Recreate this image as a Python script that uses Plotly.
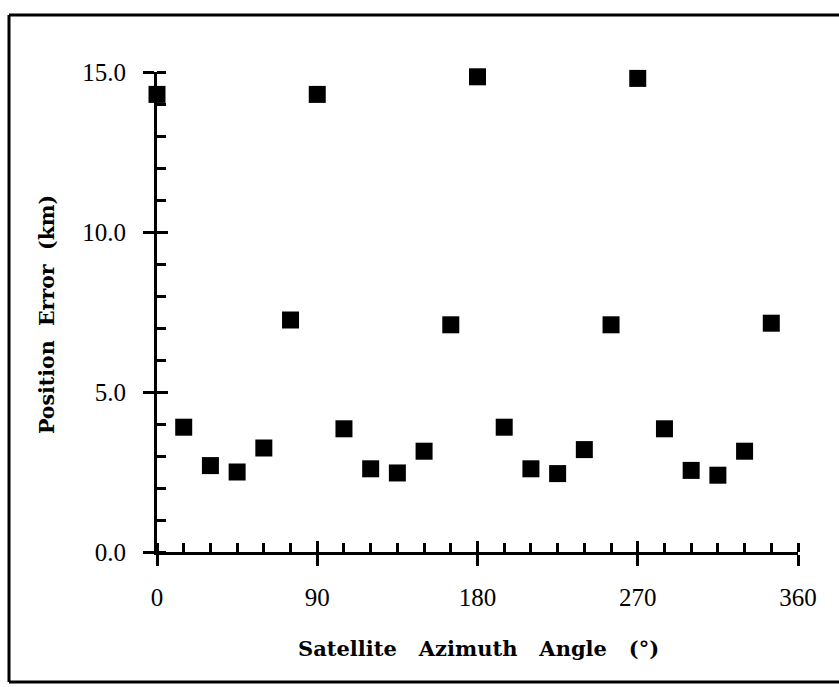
import plotly.graph_objects as go

# Data
azimuth_deg = [0, 15, 30, 45, 60, 75, 90, 105, 120, 135, 150, 165,
               180, 195, 210, 225, 240, 255, 270, 285, 300, 315, 330, 345]
position_error_km = [14.3, 3.9, 2.7, 2.5, 3.25, 7.25, 14.3, 3.85, 2.6, 2.47, 3.15, 7.1,
                     14.85, 3.9, 2.6, 2.45, 3.2, 7.1, 14.8, 3.85, 2.55, 2.4, 3.15, 7.15]

x_major_ticks = [0, 90, 180, 270, 360]
y_major_ticks = [0, 5, 10, 15]
y_tick_labels = ["0.0", "5.0", "10.0", "15.0"]

x_title = "Satellite\u00a0\u00a0\u00a0Azimuth\u00a0\u00a0\u00a0Angle\u00a0\u00a0\u00a0(°)"
y_title = "Position\u00a0\u00a0Error\u00a0\u00a0(km)"

W, H = 839, 687
L, R, T, B = 157, 41, 72, 135

tick_font = dict(family="Liberation Serif", size=25, color="black")
x_title_font = dict(family="DejaVu Serif", size=21, color="black", weight="bold")
y_title_font = dict(family="DejaVu Serif", size=20.5, color="black", weight="bold")

fig = go.Figure()
fig.add_trace(go.Scatter(
    x=azimuth_deg, y=position_error_km, mode="markers",
    marker=dict(symbol="square", size=17, color="black", line=dict(width=0)),
    cliponaxis=False, showlegend=False, hoverinfo="skip",
))
# invisible trace on the overlay axes so they get drawn
fig.add_trace(go.Scatter(x=[None], y=[None], xaxis="x2", yaxis="y2", showlegend=False))

fig.update_layout(
    width=W, height=H,
    margin=dict(l=L, r=R, t=T, b=B),
    paper_bgcolor="white", plot_bgcolor="white",
    xaxis=dict(
        range=[0, 360], tickvals=x_major_ticks, ticks="outside", ticklen=11, tickwidth=3,
        tickcolor="black", showline=True, linewidth=3, linecolor="black",
        showgrid=False, zeroline=False, tickfont=tick_font, ticklabelstandoff=10,
        minor=dict(dtick=15, tick0=0, ticks="inside", ticklen=9, tickwidth=3, tickcolor="black", showgrid=False),
    ),
    yaxis=dict(
        range=[0, 15], tickvals=y_major_ticks, ticktext=y_tick_labels, ticks="outside",
        ticklen=11, tickwidth=3, tickcolor="black", showline=True, linewidth=3,
        linecolor="black", showgrid=False, zeroline=False, tickfont=tick_font,
        ticklabelstandoff=12,
        minor=dict(dtick=1, tick0=0, ticks="inside", ticklen=9, tickwidth=3, tickcolor="black", showgrid=False),
    ),
    xaxis2=dict(
        overlaying="x", anchor="y2", side="bottom", range=[0, 360], tickvals=x_major_ticks,
        ticks="inside", ticklen=11, tickwidth=3, tickcolor="black", showticklabels=False,
        showline=False, showgrid=False, zeroline=False,
    ),
    yaxis2=dict(
        overlaying="y", anchor="x2", side="left", range=[0, 15], tickvals=y_major_ticks,
        ticks="inside", ticklen=11, tickwidth=3, tickcolor="black", showticklabels=False,
        showline=False, showgrid=False, zeroline=False,
    ),
)

def px_to_paper_x(px):
    return (px - L) / (W - L - R)

def px_to_paper_y(py):
    return (H - B - py) / (H - T - B)

fig.add_annotation(
    text=x_title, xref="paper", yref="paper",
    x=px_to_paper_x(479), y=px_to_paper_y(648), showarrow=False,
    font=x_title_font, xanchor="center", yanchor="middle",
)
fig.add_annotation(
    text=y_title, xref="paper", yref="paper",
    x=px_to_paper_x(47), y=px_to_paper_y(315), showarrow=False,
    font=y_title_font, xanchor="center", yanchor="middle", textangle=-90,
)

# figure frame (left, top, bottom edges)
frame = dict(color="black", width=3)
x_left = px_to_paper_x(9)
x_right = px_to_paper_x(839)
y_top = px_to_paper_y(15)
y_bot = px_to_paper_y(682)
fig.add_shape(type="line", xref="paper", yref="paper", x0=x_left, x1=x_left, y0=y_bot, y1=y_top, line=frame)
fig.add_shape(type="line", xref="paper", yref="paper", x0=x_left, x1=x_right, y0=y_top, y1=y_top, line=frame)
fig.add_shape(type="line", xref="paper", yref="paper", x0=x_left, x1=x_right, y0=y_bot, y1=y_bot, line=frame)

fig.write_html(
    "out.html",
    config={"displayModeBar": False},
    post_script="document.body.style.margin='0';document.body.style.overflow='hidden';",
)
